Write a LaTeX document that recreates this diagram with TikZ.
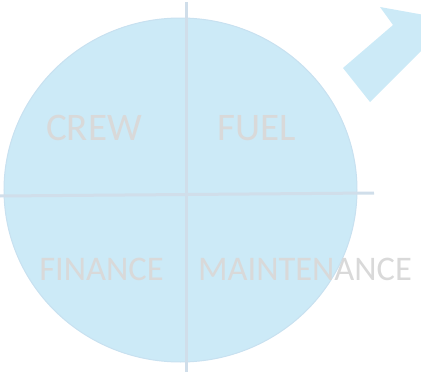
\documentclass[tikz,border=0pt]{standalone}
\usepackage{fontspec}
\setmainfont{Carlito}
\usepackage{tikz}
\usetikzlibrary{positioning}
\definecolor{paleblue}{RGB}{204,234,247}
\definecolor{rimblue}{RGB}{200,225,240}
\definecolor{axisblue}{RGB}{208,222,234}
\definecolor{labelgrey}{RGB}{217,217,217}

\begin{document}
\begin{tikzpicture}[x=1pt,y=-1pt]

\tikzset{quarter/.style={font=\fontsize{39}{44}\selectfont,text=labelgrey,anchor=base,inner sep=0pt},
lowquarter/.style={quarter,font=\fontsize{34.5}{40}\selectfont},
axis/.style={draw=axisblue,line width=3pt}}

\useasboundingbox (0,0) rectangle (421,372);

% Circle
\draw[fill=paleblue,draw=rimblue,line width=1pt] (180.5,190) ellipse [x radius=176.5,y radius=172];

% Axes
\coordinate (top) at (186,2);
\coordinate (bottom) at (186,372);
\coordinate (left) at (0,196);
\coordinate (right) at (374,193);
\draw[axis] (top) -- (bottom);
\draw[axis] (left) -- (right);

% Labels
\node[quarter] (crew) at (94,140) {CREW};
\node[quarter] (fuel) at (256.5,140) {FUEL};
\node[lowquarter] (finance) at (101.5,280) {FINANCE};
\node[lowquarter] (maintenance) at (305,280) {MAINTENANCE};

% Arrow
\begin{scope}
\clip (0,0) rectangle (421,372);
\fill[paleblue] (343,68) -- (393,25) -- (380,7) -- (480,25) -- (440,32) -- (370,102) -- cycle;
\end{scope}

\end{tikzpicture}
\end{document}
